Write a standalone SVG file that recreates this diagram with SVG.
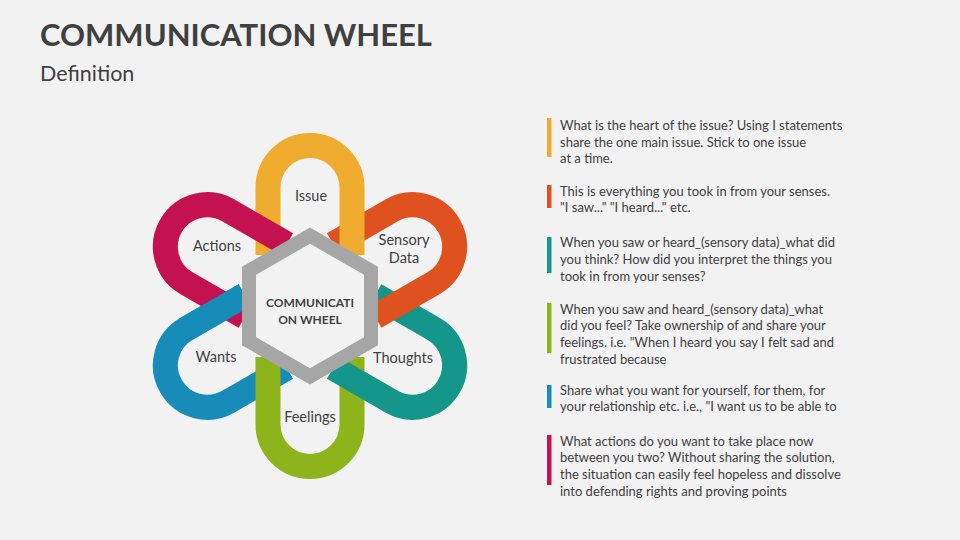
<svg xmlns="http://www.w3.org/2000/svg" xmlns:xlink="http://www.w3.org/1999/xlink" width="960" height="540" viewBox="0 0 960 540">
<style>
.petal{fill:none;stroke-width:25;stroke-linecap:butt}
.yel{stroke:#F0AC2E}.ora{stroke:#DF521F}.tea{stroke:#14968A}.gre{stroke:#8DB41B}.blu{stroke:#178CB8}.red{stroke:#C3124F}
.lbl{font-family:Lato,"Open Sans",sans-serif;font-size:14.5px;fill:#404040;text-anchor:middle}
.desc{font-family:Lato,"Open Sans",sans-serif;font-size:13px;fill:#404040}
</style>
<defs>
<path id="petal" d="M-42,-51 L-42,-118.5 A42,42 0 0 1 42,-118.5 L42,-51"/>
<path id="leg" d="M42,-120 L42,-51"/>
</defs>
<rect width="960" height="540" fill="#F2F2F2"/>
<text x="40" y="46" font-family="Lato,'Open Sans',sans-serif" font-weight="bold" font-size="31" fill="#404040">COMMUNICATION WHEEL</text>
<text x="40" y="81" font-family="Lato,'Open Sans',sans-serif" font-size="21.5" fill="#404040">Definition</text>

<g id="wants"><use xlink:href="#petal" class="petal blu" transform="translate(310,306) rotate(240)"/><text class="lbl" x="216" y="362">Wants</text></g>
<g id="feelings"><use xlink:href="#petal" class="petal gre" transform="translate(310,306) rotate(180)"/><text class="lbl" x="310" y="422">Feelings</text></g>
<g id="thoughts"><use xlink:href="#petal" class="petal tea" transform="translate(310,306) rotate(120)"/><text class="lbl" x="403" y="363">Thoughts</text></g>
<g id="sensory-data"><use xlink:href="#petal" class="petal ora" transform="translate(310,306) rotate(60)"/><text class="lbl" x="404" y="245">Sensory</text><text class="lbl" x="404" y="263">Data</text></g>
<g id="issue"><use xlink:href="#petal" class="petal yel" transform="translate(310,306)"/><text class="lbl" x="311" y="201">Issue</text></g>
<g id="actions"><use xlink:href="#petal" class="petal red" transform="translate(310,306) rotate(300)"/><text class="lbl" x="217" y="251">Actions</text></g>
<g id="wants-overlap"><use xlink:href="#leg" class="petal blu" transform="translate(310,306) rotate(240)"/></g>

<g id="center">
<polygon points="310,235.6 371,270.8 371,341.2 310,376.4 249,341.2 249,270.8" fill="#F2F2F2" stroke="#A6A6A6" stroke-width="14" stroke-linejoin="miter"/>
<text font-family="Lato,'Open Sans',sans-serif" font-weight="bold" font-size="12" fill="#404040" text-anchor="middle"><tspan x="310" y="307">COMMUNICATI</tspan><tspan x="310" y="324">ON WHEEL</tspan></text>
</g>

<g id="descriptions">
<rect x="547" y="118" width="4.5" height="39" fill="#F0AC2E"/>
<text class="desc"><tspan x="560" y="130">What is the heart of the issue? Using I statements</tspan><tspan x="560" y="146.5">share the one main issue. Stick to one issue</tspan><tspan x="560" y="163">at a time.</tspan></text>
<rect x="547" y="185" width="4.5" height="23" fill="#DF521F"/>
<text class="desc"><tspan x="560" y="195.5">This is everything you took in from your senses.</tspan><tspan x="560" y="212">"I saw..." "I heard..." etc.</tspan></text>
<rect x="547" y="237" width="4.5" height="36" fill="#14968A"/>
<text class="desc"><tspan x="560" y="247">When you saw or heard_(sensory data)_what did</tspan><tspan x="560" y="264">you think? How did you interpret the things you</tspan><tspan x="560" y="281">took in from your senses?</tspan></text>
<rect x="547" y="303" width="4.5" height="50" fill="#8DB41B"/>
<text class="desc"><tspan x="560" y="313.5">When you saw and heard_(sensory data)_what</tspan><tspan x="560" y="330">did you feel? Take ownership of and share your</tspan><tspan x="560" y="347">feelings. i.e. "When I heard you say I felt sad and</tspan><tspan x="560" y="364">frustrated because</tspan></text>
<rect x="547" y="385" width="4.5" height="23" fill="#178CB8"/>
<text class="desc"><tspan x="560" y="394.5">Share what you want for yourself, for them, for</tspan><tspan x="560" y="411">your relationship etc. i.e., "I want us to be able to</tspan></text>
<rect x="547" y="435" width="4.5" height="50" fill="#C3124F"/>
<text class="desc"><tspan x="560" y="445.5">What actions do you want to take place now</tspan><tspan x="560" y="462">between you two? Without sharing the solution,</tspan><tspan x="560" y="479">the situation can easily feel hopeless and dissolve</tspan><tspan x="560" y="496">into defending rights and proving points</tspan></text>
</g>
</svg>
